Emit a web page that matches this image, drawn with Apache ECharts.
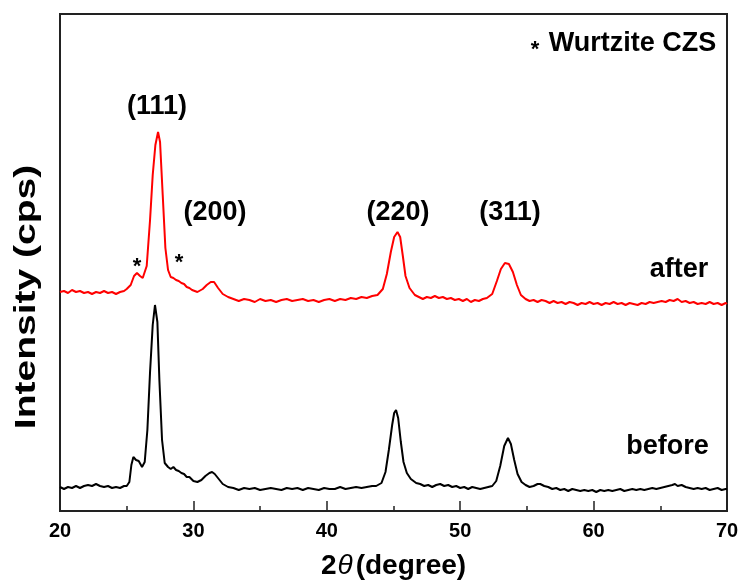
<!DOCTYPE html>
<html>
<head>
<meta charset="utf-8">
<script src="https://cdn.jsdelivr.net/npm/echarts@6/dist/echarts.min.js"></script>
<style>
  html, body { margin: 0; padding: 0; background: #fff; }
  #xrd { width: 742px; height: 586px; }
</style>
</head>
<body>
<div id="xrd"></div>
<script>
// [2theta (degree), intensity] (arbitrary units)
var beforePts = [[20.0,24],[20.3,22],[20.6,24],[20.9,23],[21.2,25],[21.5,23],[21.8,25],[22.1,26],[22.4,25],[22.7,27],[23.0,25],[23.3,24],[23.6,25],[23.9,23],[24.2,24],[24.5,23],[24.8,25],[25.0,25],[25.2,29],[25.35,46],[25.5,54],[25.7,51],[25.9,50],[26.15,44],[26.35,49],[26.55,81],[26.75,139],[26.95,186],[27.12,206],[27.3,189],[27.45,131],[27.65,71],[27.85,48],[28.1,44],[28.3,42],[28.5,44],[28.7,41],[28.9,40],[29.1,38],[29.3,37],[29.5,34],[29.7,34],[30.0,30],[30.3,29],[30.6,31],[30.9,35],[31.2,38],[31.4,39],[31.6,37],[31.9,32],[32.2,27],[32.6,24],[33.0,23],[33.4,21],[33.8,23],[34.2,22],[34.6,23],[35.0,21],[35.4,22],[35.8,23],[36.2,22],[36.6,21],[37.0,23],[37.4,22],[37.8,23],[38.2,21],[38.6,23],[39.0,22],[39.4,21],[39.8,23],[40.2,22],[40.6,22],[41.0,24],[41.4,22],[41.8,23],[42.2,24],[42.6,23],[43.0,24],[43.4,25],[43.7,25],[44.1,28],[44.4,39],[44.65,61],[44.9,86],[45.05,98],[45.19,101],[45.35,93],[45.55,69],[45.75,49],[46.0,38],[46.3,32],[46.7,28],[47.0,27],[47.3,25],[47.6,26],[47.9,24],[48.2,26],[48.5,27],[48.8,25],[49.1,26],[49.4,24],[49.7,25],[50.0,23],[50.3,24],[50.6,22],[50.9,24],[51.2,23],[51.5,22],[51.8,23],[52.1,24],[52.4,25],[52.7,30],[53.0,45],[53.3,65],[53.58,73],[53.8,67],[54.05,51],[54.3,37],[54.6,29],[54.9,26],[55.2,24],[55.5,25],[55.8,27],[56.0,27],[56.3,25],[56.6,24],[56.9,22],[57.2,23],[57.5,21],[57.8,22],[58.1,20],[58.4,22],[58.7,21],[59.0,20],[59.3,21],[59.6,20],[59.9,21],[60.2,19],[60.5,21],[60.8,20],[61.1,21],[61.4,20],[61.7,21],[62.0,22],[62.3,20],[62.6,21],[62.9,22],[63.2,21],[63.5,22],[63.8,21],[64.1,22],[64.4,23],[64.7,22],[65.0,23],[65.3,24],[65.6,25],[65.9,26],[66.1,27],[66.3,25],[66.6,26],[66.9,24],[67.2,23],[67.5,22],[67.8,23],[68.1,22],[68.4,23],[68.7,21],[69.0,22],[69.3,23],[69.6,21],[69.9,22],[70.0,22]];

var afterPts = [[20.0,219],[20.3,220],[20.6,218],[20.9,221],[21.2,219],[21.5,220],[21.8,218],[22.1,219],[22.4,217],[22.7,219],[23.0,218],[23.3,220],[23.6,218],[23.9,219],[24.2,217],[24.5,219],[24.8,220],[25.0,222],[25.3,226],[25.55,235],[25.77,238],[26.0,235],[26.2,233],[26.5,245],[26.75,291],[26.95,336],[27.15,366],[27.35,379],[27.5,369],[27.7,316],[27.9,263],[28.1,241],[28.3,234],[28.5,233],[28.7,231],[28.9,230],[29.1,228],[29.3,227],[29.5,224],[29.7,223],[29.9,221],[30.3,219],[30.7,222],[31.0,226],[31.3,229],[31.55,229],[31.85,223],[32.2,217],[32.6,214],[33.0,212],[33.4,210],[33.8,212],[34.2,211],[34.6,209],[35.0,212],[35.4,210],[35.8,211],[36.2,209],[36.6,211],[37.0,212],[37.4,210],[37.8,211],[38.2,212],[38.6,210],[39.0,211],[39.4,209],[39.8,211],[40.2,212],[40.6,210],[41.0,212],[41.4,211],[41.8,213],[42.2,212],[42.6,214],[43.0,213],[43.4,215],[43.8,216],[44.2,222],[44.5,237],[44.8,259],[45.05,274],[45.3,279],[45.5,274],[45.7,255],[45.9,235],[46.2,223],[46.6,216],[46.9,214],[47.2,212],[47.5,214],[47.8,213],[48.1,215],[48.4,213],[48.7,214],[49.0,212],[49.3,213],[49.6,211],[49.9,212],[50.2,210],[50.5,212],[50.8,209],[51.1,211],[51.4,210],[51.7,212],[52.0,213],[52.4,217],[52.75,230],[53.05,242],[53.35,248],[53.65,247],[53.95,239],[54.25,226],[54.55,216],[54.9,212],[55.2,210],[55.5,211],[55.8,209],[56.1,211],[56.4,210],[56.7,208],[57.0,210],[57.3,208],[57.6,209],[57.9,207],[58.2,209],[58.5,208],[58.8,206],[59.1,208],[59.4,207],[59.7,209],[60.0,207],[60.3,208],[60.6,206],[60.9,208],[61.2,207],[61.5,209],[61.8,207],[62.1,208],[62.4,206],[62.7,208],[63.0,207],[63.3,206],[63.6,208],[63.9,207],[64.2,209],[64.5,208],[64.8,209],[65.1,210],[65.4,209],[65.7,211],[66.0,210],[66.3,212],[66.6,209],[66.9,210],[67.2,208],[67.5,209],[67.8,207],[68.1,208],[68.4,207],[68.7,209],[69.0,207],[69.3,208],[69.6,206],[69.9,208],[70.0,207]];

// text placed in data coordinates [2theta, intensity]
var noteText = ['(111)', '(200)', '(220)', '(311)', '*', '*', 'after', 'before', 'Wurtzite CZS', '*'];
var noteX = [27.27, 31.62, 45.34, 53.73, 25.77, 28.92, 66.4, 65.54, 62.92, 55.61];
var noteY = [404, 298, 298, 298, 244, 248, 241, 64, 467, 461];

var xTicks = [20, 30, 40, 50, 60, 70];

var FONT = '"Liberation Sans", Arial, sans-serif';

var notes = [];
for (var i = 0; i < noteText.length; i++) {
    var small = noteText[i] === '*';
    notes.push({
        name: noteText[i],
        value: [noteX[i], noteY[i]],
        label: { fontSize: small ? 22 : 27 }
    });
}

var chart = echarts.init(document.getElementById('xrd'));

var option = {
    animation: false,
    backgroundColor: '#fff',
    grid: {
        left: 60, right: 15, top: 14, bottom: 75,
        show: true, borderColor: '#222', borderWidth: 2
    },
    xAxis: {
        type: 'value',
        min: 20, max: 70, interval: 10,
        name: '{n|2}{t|θ}{n|(degree)}',
        nameLocation: 'middle',
        nameGap: 41,
        nameTextStyle: {
            rich: {
                n: { fontFamily: FONT, fontWeight: 'bold', fontSize: 28, color: '#000' },
                t: { fontFamily: FONT, fontStyle: 'italic', fontSize: 28, color: '#000', padding: [0, 3, 0, 1] }
            }
        },
        axisLine: { show: true, lineStyle: { color: '#222', width: 2 } },
        axisTick: { show: true, inside: true, length: 10, lineStyle: { color: '#222', width: 1.5 } },
        minorTick: { show: true, splitNumber: 2, length: 5, lineStyle: { color: '#222', width: 1.5 } },
        splitLine: { show: false },
        axisLabel: {
            margin: 10,
            fontFamily: FONT, fontWeight: 'bold', fontSize: 20, color: '#000',
            formatter: function (v) { return xTicks.indexOf(v) >= 0 ? String(v) : ''; }
        }
    },
    yAxis: {
        type: 'value',
        min: 0, max: 497,
        axisLine: { show: false },
        axisTick: { show: false },
        axisLabel: { show: false },
        splitLine: { show: false }
    },
    graphic: [{
        type: 'text',
        x: 27, y: 297,
        rotation: Math.PI / 2,
        scaleX: 1.3,
        style: {
            text: 'Intensity (cps)',
            font: 'bold 30px ' + FONT,
            fill: '#000',
            align: 'center',
            verticalAlign: 'middle'
        }
    }],
    series: [
        {
            name: 'before',
            type: 'line',
            data: beforePts,
            showSymbol: false,
            lineStyle: { color: '#000', width: 2 }
        },
        {
            name: 'after',
            type: 'line',
            data: afterPts,
            showSymbol: false,
            lineStyle: { color: '#ff0000', width: 2 }
        },
        {
            name: 'notes',
            type: 'scatter',
            data: notes,
            symbolSize: 1,
            itemStyle: { color: 'rgba(0,0,0,0)' },
            label: {
                show: true,
                position: 'inside',
                formatter: '{b}',
                fontFamily: FONT,
                fontWeight: 'bold',
                color: '#000',
                opacity: 1,
                textBorderWidth: 0
            }
        }
    ]
};

chart.setOption(option);
</script>
</body>
</html>
